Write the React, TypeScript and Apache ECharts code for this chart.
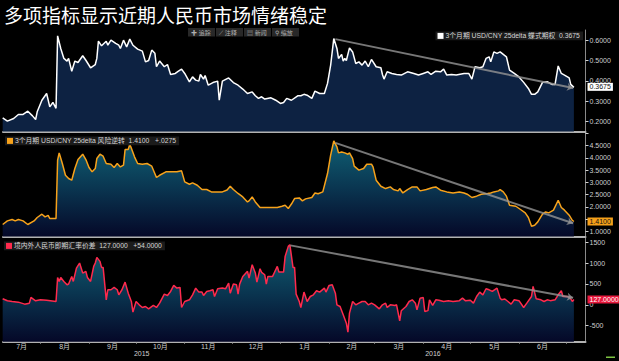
import React, { useEffect, useRef } from "react";
import * as echarts from "echarts";

// ---- data (x = days since 2015-07-01) ----
const butterfly: [number, number][] = [
  [7,0.217],[10,0.201],[14,0.214],[17,0.234],[20,0.234],[23,0.250],[26,0.227],[28,0.209],[29,0.247],[32,0.304],[35,0.337],[37,0.271],[39,0.293],[41,0.264],[42,0.621],[44,0.559],[46,0.510],[48,0.497],[49,0.510],[51,0.447],[53,0.497],[55,0.490],[58,0.523],[60,0.501],[63,0.464],[66,0.480],[67,0.510],[68,0.595],[70,0.572],[73,0.595],[74,0.575],[76,0.600],[79,0.584],[81,0.575],[82,0.559],[84,0.600],[86,0.567],[88,0.605],[90,0.575],[93,0.556],[96,0.546],[98,0.493],[100,0.500],[102,0.551],[104,0.535],[105,0.469],[107,0.497],[110,0.469],[112,0.480],[114,0.431],[117,0.436],[119,0.447],[121,0.457],[123,0.436],[126,0.395],[128,0.419],[130,0.403],[132,0.398],[133,0.431],[135,0.408],[136,0.426],[138,0.378],[141,0.391],[144,0.398],[145,0.304],[147,0.398],[151,0.414],[154,0.391],[157,0.378],[160,0.359],[163,0.337],[166,0.345],[168,0.326],[170,0.313],[172,0.321],[174,0.310],[178,0.316],[181,0.304],[184,0.288],[186,0.293],[188,0.313],[191,0.304],[195,0.326],[197,0.326],[199,0.333],[201,0.329],[204,0.313],[206,0.349],[209,0.337],[212,0.337],[214,0.387],[216,0.477],[218,0.608],[220,0.559],[221,0.510],[223,0.530],[224,0.497],[225,0.510],[226,0.500],[228,0.562],[230,0.542],[232,0.485],[234,0.493],[236,0.477],[238,0.497],[240,0.469],[242,0.505],[245,0.469],[248,0.464],[249,0.431],[250,0.408],[252,0.444],[255,0.436],[258,0.431],[261,0.428],[265,0.444],[269,0.436],[272,0.428],[275,0.436],[278,0.444],[280,0.431],[283,0.447],[286,0.444],[288,0.457],[290,0.428],[293,0.431],[296,0.428],[301,0.436],[304,0.436],[306,0.408],[308,0.469],[311,0.464],[313,0.469],[315,0.510],[317,0.518],[318,0.493],[320,0.542],[322,0.535],[324,0.542],[326,0.530],[328,0.518],[330,0.452],[333,0.436],[336,0.419],[339,0.392],[342,0.362],[344,0.333],[346,0.333],[348,0.345],[351,0.392],[354,0.395],[357,0.382],[359,0.382],[361,0.473],[363,0.436],[365,0.428],[368,0.414],[369,0.382],[371,0.3675]
];

const riskReversal: [number, number][] = [
  [7,1.289],[10,1.435],[13,1.49],[15,1.435],[17,1.49],[20,1.435],[23,1.289],[27,1.435],[29,1.573],[32,1.707],[34,1.598],[36,1.66],[37,1.533],[41,1.533],[42,3.902],[43,4.2],[45,3.768],[47,3.29],[49,3.16],[51,3.09],[53,3.565],[55,3.93],[58,4.146],[60,3.93],[62,3.606],[64,3.43],[66,3.565],[67,3.97],[69,4.146],[71,4.065],[73,3.768],[76,3.74],[78,3.606],[80,3.768],[82,3.63],[84,3.70],[85,4.337],[87,4.337],[88,4.553],[89,4.39],[91,4.04],[93,3.768],[96,3.74],[99,3.768],[102,3.66],[105,3.2],[107,3.29],[111,3.43],[114,3.43],[118,3.43],[121,3.47],[123,3.02],[126,2.927],[128,2.98],[131,2.886],[134,2.71],[137,2.71],[140,2.614],[144,2.614],[147,2.614],[150,2.69],[152,2.845],[154,2.71],[157,2.55],[160,2.41],[163,2.207],[164,2.25],[166,2.41],[168,2.207],[171,1.98],[175,1.98],[182,1.98],[185,2.03],[187,2.07],[189,1.94],[191,2.12],[193,2.345],[196,2.37],[198,2.25],[200,2.33],[204,2.386],[206,2.57],[208,2.54],[211,2.614],[214,3.36],[216,4.106],[218,4.69],[220,4.445],[221,4.2],[223,4.24],[225,4.2],[227,4.146],[228,4.2],[230,3.97],[231,3.66],[234,3.5],[237,3.565],[239,3.74],[242,3.74],[243,3.63],[245,3.09],[248,2.845],[251,2.75],[254,2.817],[256,2.71],[259,2.655],[260,2.75],[262,2.57],[265,2.71],[268,2.817],[271,2.817],[273,2.655],[277,2.71],[281,2.79],[283,2.817],[286,2.683],[290,2.614],[294,2.57],[298,2.614],[301,2.57],[303,2.52],[306,2.386],[309,2.44],[312,2.52],[316,2.55],[318,2.57],[320,2.614],[323,2.655],[324,2.71],[326,2.614],[328,2.44],[330,2.073],[334,2.03],[337,1.898],[340,1.76],[342,1.573],[344,1.22],[346,1.26],[348,1.395],[351,1.707],[353,1.80],[355,1.76],[358,1.87],[361,2.276],[363,1.98],[365,1.87],[368,1.667],[370,1.46],[371,1.41]
];

const spotSpread: [number, number][] = [
  [7,144],[10,96],[13,80],[17,64],[21,16],[24,40],[25,176],[28,96],[31,120],[35,110],[41,80],[42,657],[43,561],[44,657],[46,561],[48,481],[49,500],[51,681],[52,561],[54,882],[56,1002],[58,762],[60,802],[61,657],[63,561],[65,922],[66,1002],[67,1138],[69,1042],[70,898],[71,898],[73,120],[74,361],[76,361],[78,417],[80,361],[81,240],[83,361],[85,545],[87,280],[89,80],[90,-176],[92,80],[94,0],[96,-64],[98,-40],[100,-96],[103,-16],[105,-64],[107,40],[110,257],[112,225],[114,321],[116,465],[118,401],[120,417],[121,-64],[123,80],[126,120],[128,240],[130,401],[132,305],[134,305],[135,225],[137,321],[139,337],[141,361],[142,200],[144,385],[147,401],[149,385],[151,521],[152,280],[154,497],[156,481],[157,257],[158,497],[160,681],[162,762],[163,802],[164,641],[166,962],[168,762],[169,545],[171,866],[172,780],[174,721],[175,497],[176,681],[179,681],[180,762],[182,922],[183,786],[186,786],[187,1162],[189,1402],[190,1442],[192,898],[193,898],[194,257],[196,80],[197,-64],[199,305],[201,80],[203,200],[205,240],[207,337],[209,305],[212,401],[213,305],[215,465],[217,481],[219,280],[220,0],[222,-40],[224,-240],[226,-441],[227,-657],[228,-200],[230,80],[232,0],[234,40],[236,80],[238,80],[240,0],[242,40],[244,0],[247,-96],[249,0],[251,40],[252,-64],[254,0],[257,-16],[258,0],[260,-385],[261,-144],[264,-40],[266,80],[268,120],[270,40],[271,-120],[273,160],[275,176],[276,-160],[278,-140],[279,120],[281,-16],[283,120],[285,110],[288,80],[291,100],[294,80],[298,100],[300,160],[302,96],[305,110],[307,40],[309,200],[311,305],[313,240],[315,385],[317,360],[319,321],[322,401],[324,160],[325,120],[327,140],[329,80],[331,16],[333,120],[336,100],[339,-64],[341,40],[344,200],[345,441],[347,144],[350,120],[352,80],[354,120],[356,100],[359,120],[361,240],[363,337],[364,200],[367,200],[369,144],[370,80],[371,127]
];

// trend lines: [startDay, startValue, endDay, endValue]
const trend1 = [219, 0.605, 370.5, 0.364];
const trend2 = [219, 4.606, 370.5, 1.34];
const trend3 = [190.3, 1426, 370.5, 168];

const riskReversalChange = "+.0275";
const spreadChange = "+54.0000";

const seriesNames = [
  "3个月期 USD/CNY 25delta 蝶式期权",
  "3个月期 USD/CNY 25delta 风险逆转",
  "境内外人民币即期汇率价差",
];

const ticks1 = [0.2, 0.3, 0.4, 0.5, 0.6];
const ticks2 = [1.0, 1.5, 2.0, 2.5, 3.0, 3.5, 4.0, 4.5, 5.0];
const labels2 = [1.0, 2.0, 2.5, 3.0, 3.5, 4.0, 4.5];
const ticks3 = [-500, 0, 500, 1000, 1500];

const monthNames = ["7月", "8月", "9月", "10月", "11月", "12月", "1月", "2月", "3月", "4月", "5月", "6月", "7月"];
const monthStartDates = [
  "2015-07-01", "2015-08-01", "2015-09-01", "2015-10-01", "2015-11-01", "2015-12-01",
  "2016-01-01", "2016-02-01", "2016-03-01", "2016-04-01", "2016-05-01", "2016-06-01", "2016-07-01",
];
const yearNames = ["2015", "2016"];
const yearStartDates = ["2015-01-01", "2016-01-01"];

const TITLE = "多项指标显示近期人民币市场情绪稳定";
const toolButtons = ["✚ 追踪", "⟋ 注释", "▤ 新闻", "⚲ 缩放"];

// ---- helpers ----
const D0 = Date.UTC(2015, 6, 1);
const dayOf = (s: string) => (Date.parse(s + "T00:00:00Z") - D0) / 86400000;
const X_MIN = 7.2;
const X_MAX = 378.4;

const monthStarts = monthStartDates.map(dayOf);
const monthCenters: { v: number; label: string }[] = [];
monthStarts.forEach((s, i) => {
  const a = Math.max(s, X_MIN);
  const b = Math.min(i + 1 < monthStarts.length ? monthStarts[i + 1] : X_MAX, X_MAX);
  if (b - a >= 20) monthCenters.push({ v: (a + b) / 2, label: monthNames[i] });
});
const yearStarts = yearStartDates.map(dayOf);
const yearCenters = yearNames.map((n, i) => {
  const a = Math.max(yearStarts[i], X_MIN);
  const b = Math.min(i + 1 < yearStarts.length ? yearStarts[i + 1] : X_MAX, X_MAX);
  return { v: (a + b) / 2, label: n };
});
const tickDays = monthStarts.filter((d) => d > X_MIN && d < X_MAX);

const last = (arr: [number, number][]) => arr[arr.length - 1][1];

const NUM_FONT = "'Liberation Sans', Arial, sans-serif";
const MIX_FONT = "'Liberation Sans', 'Noto Sans CJK SC', sans-serif";

export default function App() {
  const ref = useRef<HTMLDivElement>(null);
  useEffect(() => {
    document.body.style.margin = "0";
    document.body.style.background = "#000";
    const chart = echarts.init(ref.current!, undefined, { renderer: "svg" });

    const grids = [
      { left: 3, right: 33.5, top: 30, height: 101.5 },
      { left: 3, right: 33.5, top: 132, height: 104.5 },
      { left: 3, right: 33.5, top: 237.5, height: 104.2 },
    ];

    const baseX = (gridIndex: number) => ({
      type: "value",
      gridIndex,
      min: X_MIN,
      max: X_MAX,
      position: "bottom",
      axisLine: { show: true, onZero: false, lineStyle: { color: "#b2b2b2", width: 2 } },
      axisTick: { show: false },
      axisLabel: { show: false },
      splitLine: { show: false },
    });

    const yAxisCommon = (gridIndex: number, min: number, max: number, tickVals: number[], labelVals: number[], fmt: (v: number) => string) => ({
      type: "value",
      gridIndex,
      position: "right",
      min,
      max,
      axisLine: { show: true, lineStyle: { color: "#8a8a8a", width: 1 } },
      axisTick: { show: true, length: 3, customValues: tickVals, lineStyle: { color: "#d0d0d0" } },
      axisLabel: { show: true, customValues: labelVals, formatter: fmt, fontSize: 7, color: "#cfcfcf", margin: 4, fontFamily: NUM_FONT },
      splitLine: { show: false },
    });

    const gradient = () =>
      new echarts.graphic.LinearGradient(0, 0, 0, 1, [
        { offset: 0, color: "#0f6074" },
        { offset: 0.5, color: "#0a3550" },
        { offset: 1, color: "#050828" },
      ]);

    const trendItem = (t: number[]) => [
      { coord: [t[0], t[1]], symbol: "none", lineStyle: { color: "#959595", width: 2, opacity: 0.8, type: "solid" }, label: { show: false } },
      { coord: [t[2], t[3]], symbol: "arrow", symbolSize: 6 },
    ];
    const badgeItem = (v: number, text: string, bg: string, fg: string) => ({
      yAxis: v,
      lineStyle: { color: "rgba(0,0,0,0)", width: 1, opacity: 1 },
      symbol: "none",
      label: {
        show: true,
        position: "end",
        formatter: text,
        distance: 2,
        backgroundColor: bg,
        color: fg,
        fontSize: 7,
        fontFamily: NUM_FONT,
        padding: [1, 2, 0, 2],
        opacity: 1,
      },
    });

    const lastB = last(butterfly);
    const lastR = last(riskReversal);
    const lastS = last(spotSpread);

    const legendCommon = {
      orient: "horizontal",
      icon: "rect",
      itemWidth: 6,
      itemHeight: 6,
      itemGap: 0,
      padding: [1, 3, 1, 2],
      backgroundColor: "#1b1b1b",
      selectedMode: false,
      textStyle: { color: "#d6d6d6", fontSize: 6.8, fontFamily: MIX_FONT, padding: [0, 0, 0, -3] },
    };

    const option: any = {
      animation: false,
      backgroundColor: "#000",
      title: {
        text: TITLE,
        left: 4,
        top: 5,
        padding: 0,
        textStyle: { color: "#ffffff", fontSize: 19, fontWeight: "normal", fontFamily: "'Noto Sans CJK SC', sans-serif" },
      },
      legend: [
        { ...legendCommon, data: [seriesNames[0]], right: 36, top: 31.5, formatter: (n: string) => `${n}  ${lastB.toFixed(4)}` },
        { ...legendCommon, data: [seriesNames[1]], left: 5, top: 136.5, formatter: (n: string) => `${n}  ${lastR.toFixed(4)}   ${riskReversalChange}` },
        { ...legendCommon, data: [seriesNames[2]], left: 4, top: 241.5, formatter: (n: string) => `${n}  ${lastS.toFixed(4)}   ${spreadChange}` },
      ],
      grid: grids,
      xAxis: [
        baseX(0),
        baseX(1),
        {
          ...baseX(2),
          axisTick: { show: true, length: 2, customValues: tickDays, lineStyle: { color: "#a0a0a0" } },
          axisLabel: {
            show: true,
            customValues: monthCenters.map((m) => m.v),
            formatter: (v: number) => {
              const m = monthCenters.find((c) => Math.abs(c.v - v) < 0.01);
              return m ? m.label : "";
            },
            fontSize: 7,
            color: "#cfcfcf",
            margin: 1,
            fontFamily: MIX_FONT,
          },
        },
        {
          type: "value",
          gridIndex: 2,
          min: X_MIN,
          max: X_MAX,
          position: "bottom",
          axisLine: { show: false },
          axisTick: { show: true, length: 17, customValues: [yearStarts[1]], lineStyle: { color: "#4a4a4a", width: 1 } },
          axisLabel: {
            show: true,
            customValues: yearCenters.map((y) => y.v),
            formatter: (v: number) => {
              const y = yearCenters.find((c) => Math.abs(c.v - v) < 0.01);
              return y ? y.label : "";
            },
            fontSize: 7,
            color: "#cfcfcf",
            margin: 8,
            fontFamily: NUM_FONT,
          },
          splitLine: { show: false },
        },
      ],
      yAxis: [
        yAxisCommon(0, 0.15, 0.65, ticks1, ticks1, (v) => v.toFixed(4)),
        yAxisCommon(1, 0.8, 5.05, ticks2, labels2, (v) => v.toFixed(4)),
        yAxisCommon(2, -885, 1615, ticks3, ticks3, (v) => String(Math.round(v))),
      ],
      series: [
        {
          name: seriesNames[0],
          type: "line",
          xAxisIndex: 0,
          yAxisIndex: 0,
          data: butterfly,
          symbol: "none",
          clip: false,
          color: "#ffffff",
          lineStyle: { color: "#ffffff", width: 1.5 },
          areaStyle: { origin: "start", color: "#0d2242", opacity: 1 },
          markLine: {
            silent: true,
            symbol: ["none", "none"],
            data: [trendItem(trend1), badgeItem(lastB, lastB.toFixed(4), "#ffffff", "#111111")],
          },
        },
        {
          name: seriesNames[1],
          type: "line",
          xAxisIndex: 1,
          yAxisIndex: 1,
          data: riskReversal,
          symbol: "none",
          clip: false,
          color: "#f7a21b",
          lineStyle: { color: "#f7a21b", width: 1.5 },
          areaStyle: { origin: "start", color: gradient(), opacity: 1 },
          markLine: {
            silent: true,
            symbol: ["none", "none"],
            data: [trendItem(trend2), badgeItem(lastR, lastR.toFixed(4), "#f5a01a", "#111111")],
          },
        },
        {
          name: seriesNames[2],
          type: "line",
          xAxisIndex: 2,
          yAxisIndex: 2,
          data: spotSpread,
          symbol: "none",
          clip: false,
          color: "#ff2a4d",
          lineStyle: { color: "#ff2a4d", width: 1.5 },
          areaStyle: { origin: "start", color: gradient(), opacity: 1 },
          markLine: {
            silent: true,
            symbol: ["none", "none"],
            data: [trendItem(trend3), badgeItem(lastS, lastS.toFixed(4), "#e8183c", "#ffffff")],
          },
        },
      ],
      graphic: [
        {
          type: "group",
          left: 188,
          top: 28,
          children: toolButtons.map((t, i) => ({
            type: "group",
            x: i * 28,
            children: [
              { type: "rect", shape: { x: 0, y: 0, width: 27, height: 8.5 }, style: { fill: "#282828" } },
              { type: "text", x: 3, y: 4.5, style: { text: t, fontSize: 6, fill: "#b0b0b0", verticalAlign: "middle", fontFamily: MIX_FONT } },
            ],
          })),
        },
        { type: "rect", right: 4, bottom: 3, shape: { x: 0, y: 0, width: 9, height: 1.5 }, style: { fill: "#7dc242" } },
      ],
    };

    chart.setOption(option);
    return () => chart.dispose();
  }, []);

  return <div ref={ref} style={{ width: 619, height: 361, background: "#000" }} />;
}
